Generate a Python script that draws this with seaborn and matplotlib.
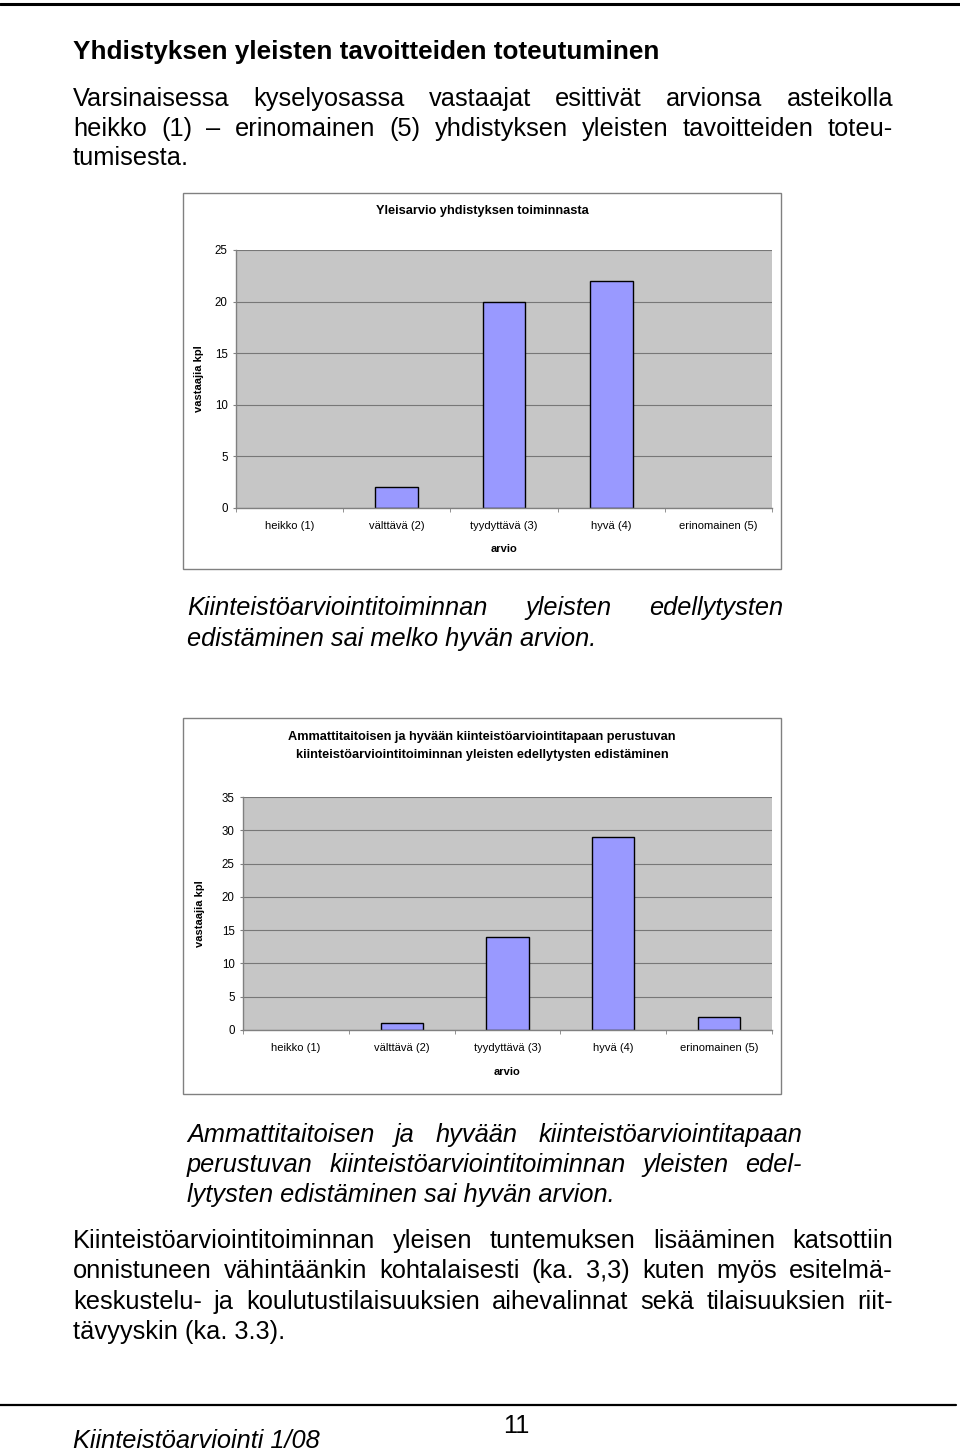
import matplotlib
matplotlib.use("Agg")
import pandas as pd
import seaborn as sns
from matplotlib import pyplot as plt

categories = ["heikko (1)", "välttävä (2)", "tyydyttävä (3)", "hyvä (4)", "erinomainen (5)"]
overall_counts = [0, 2, 20, 22, 0]
promotion_counts = [0, 1, 14, 29, 2]

title_1 = "Yleisarvio yhdistyksen toiminnasta"
title_2 = ["Ammattitaitoisen ja hyvään kiinteistöarviointitapaan perustuvan",
           "kiinteistöarviointitoiminnan yleisten edellytysten edistäminen"]

sns.set_style("white")
plt.rcParams["font.family"] = ["Liberation Sans", "DejaVu Sans"]
for key in ("text.color", "axes.labelcolor", "xtick.labelcolor", "ytick.labelcolor"):
    plt.rcParams[key] = "black"

W, H = 960, 1455
fig = plt.figure(figsize=(W / 100, H / 100), dpi=100)
page = fig.add_axes([0, 0, 1, 1])
page.set_xlim(0, W)
page.set_ylim(H, 0)
page.axis("off")
renderer = fig.canvas.get_renderer()


def line(words, x0, x1, y, justify=True, **kw):
    # place a line of words, spread over x0..x1 when justified
    if not justify:
        page.text(x0, y, " ".join(words), va="baseline", ha="left", **kw)
        return
    texts = [page.text(0, y, w, va="baseline", ha="left", **kw) for w in words]
    widths = [t.get_window_extent(renderer).width for t in texts]
    gap = (x1 - x0 - sum(widths)) / (len(words) - 1)
    x = x0
    for t, w in zip(texts, widths):
        t.set_x(x)
        x += w + gap


FS = 18.3
body = dict(fontsize=FS, color="black")
ital = dict(fontsize=FS, color="black", style="italic")

# page rules
page.plot([0, 960], [4, 4], color="black", lw=2.2)
page.plot([0, 956], [1405, 1405], color="black", lw=1.6)

page.text(73, 59, "Yhdistyksen yleisten tavoitteiden toteutuminen", fontsize=18.8, weight="bold", va="baseline")
line("Varsinaisessa kyselyosassa vastaajat esittivät arvionsa asteikolla".split(), 73, 893, 106, **body)
line("heikko (1) – erinomainen (5) yhdistyksen yleisten tavoitteiden toteu-".split(), 73, 893, 136, **body)
line(["tumisesta."], 73, 893, 165, justify=False, **body)

line("Kiinteistöarviointitoiminnan yleisten edellytysten".split(), 187, 783, 615, **ital)
line("edistäminen sai melko hyvän arvion.".split(), 187, 783, 646, justify=False, **ital)

line("Ammattitaitoisen ja hyvään kiinteistöarviointitapaan".split(), 187, 802, 1142, **ital)
line("perustuvan kiinteistöarviointitoiminnan yleisten edel-".split(), 187, 802, 1172, **ital)
line("lytysten edistäminen sai hyvän arvion.".split(), 187, 802, 1202, justify=False, **ital)

line("Kiinteistöarviointitoiminnan yleisen tuntemuksen lisääminen katsottiin".split(), 73, 893, 1248, **body)
line("onnistuneen vähintäänkin kohtalaisesti (ka. 3,3) kuten myös esitelmä-".split(), 73, 893, 1278, **body)
line("keskustelu- ja koulutustilaisuuksien aihevalinnat sekä tilaisuuksien riit-".split(), 73, 893, 1309, **body)
line(["tävyyskin (ka. 3.3)."], 73, 893, 1339, justify=False, **body)

page.text(516, 1433, "11", fontsize=FS, ha="center", va="baseline")
page.text(73, 1448, "Kiinteistöarviointi 1/08", fontsize=FS, style="italic", va="baseline")

# chart frames
for top in (193, 718):
    page.add_patch(plt.Rectangle((183, top), 598, 376, fill=False, ec="#808080", lw=1.0))


def chart(values, left, top, right, bottom, ymax, ylabel_px, xlabel_px):
    ax = fig.add_axes([left / W, 1 - bottom / H, (right - left) / W, (bottom - top) / H])
    df = pd.DataFrame({"arvio": categories, "kpl": values})
    sns.barplot(data=df, x="arvio", y="kpl", ax=ax, color="#9999ff", saturation=1,
                edgecolor="black", linewidth=1.0, width=0.4)
    # empty categories draw no bar outline
    for bar in ax.patches:
        if bar.get_height() == 0:
            bar.set_visible(False)
    ax.set_facecolor("#c6c6c6")
    ax.set_xlim(-0.5, 4.5)
    ax.set_ylim(0, ymax)
    ax.set_yticks(range(0, ymax + 1, 5))
    ax.yaxis.grid(True, color="#777777", lw=0.8)
    ax.set_axisbelow(True)
    for s in ("top", "right"):
        ax.spines[s].set_visible(False)
    for s in ("left", "bottom"):
        ax.spines[s].set_color("#808080")
        ax.spines[s].set_linewidth(1.0)
    ax.set_xticks([i - 0.5 for i in range(6)], minor=True)
    ax.tick_params(axis="x", which="major", length=0, pad=9.5, labelsize=8)
    ax.tick_params(axis="x", which="minor", length=3, color="#808080", direction="out", bottom=True)
    ax.tick_params(axis="y", length=2.5, color="#808080", direction="out", left=True, pad=3.5, labelsize=8.3)
    ax.set_ylabel("vastaajia kpl", fontsize=8, weight="bold")
    ax.yaxis.set_label_coords((ylabel_px - left) / (right - left), 0.5)
    ax.set_xlabel("arvio", fontsize=8, weight="bold")
    ax.xaxis.set_label_coords(0.5, -(xlabel_px - bottom) / (bottom - top))
    return ax


chart(overall_counts, 236, 250, 772, 508, 25, 204, 544)
page.text(482, 211, title_1, fontsize=9.2, weight="bold", ha="center", va="center")

chart(promotion_counts, 243, 797, 772, 1030, 35, 205, 1067)
page.text(482, 737, title_2[0], fontsize=9.2, weight="bold", ha="center", va="center")
page.text(482, 755, title_2[1], fontsize=9.2, weight="bold", ha="center", va="center")

fig.savefig("out.png", dpi=100)
